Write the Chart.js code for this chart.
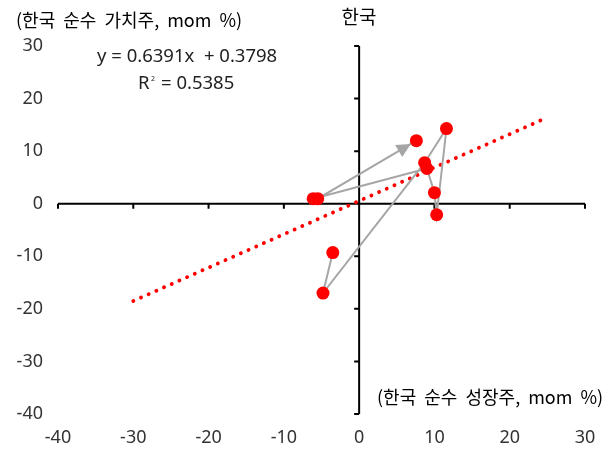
<!DOCTYPE html>
<html>
<head>
<meta charset="utf-8">
<script src="https://cdn.jsdelivr.net/npm/chart.js@4"></script>
<style>
  html, body { margin: 0; padding: 0; background: #fff; }
  #wrap { width: 615px; height: 454px; }
</style>
</head>
<body>
<div id="wrap"><canvas id="chartKorea"></canvas></div>
<script>
// 한국 순수 성장주(x) vs 순수 가치주(y), mom % - 시간 순서대로
const growthX = [-3.5, -4.8, 8.7, 11.6, 10.3, 10.0, 9.0, -6.1, -5.5, 7.6];
const valueY = [-9.3, -17.0, 7.8, 14.3, -2.1, 2.1, 6.7, 0.95, 0.95, 12.0];

// 추세선 양 끝점 (y = 0.6391x + 0.3798)
const trendX = [-30, 24.2];
const trendY = [-18.5, 15.9];

const axisTicks = [-40, -30, -20, -10, 0, 10, 20, 30];

const chartTitle = '한국';
const yTitle = '(한국  순수  가치주,  mom  %)';
const xTitle = '(한국  순수  성장주,  mom  %)';
const eqText = 'y = 0.6391x  + 0.3798';
const r2Text = '0.5385';

const krFont = '"Noto Sans CJK KR", "Noto Sans", sans-serif';
const numFont = '"Noto Sans", "DejaVu Sans", sans-serif';
const markerR = 6.5;

const pts = growthX.map((x, i) => ({ x: x, y: valueY[i] }));
const trendPts = trendX.map((x, i) => ({ x: x, y: trendY[i] }));

// 가운데 교차하는 축 + 눈금, 제목/수식 텍스트
const crossAxes = {
    id: 'crossAxes',
    beforeDatasetsDraw(chart) {
        const { ctx, scales: { x, y } } = chart;
        const x0 = x.getPixelForValue(0);
        const y0 = y.getPixelForValue(0);
        ctx.save();
        ctx.strokeStyle = '#000';
        ctx.lineWidth = 2;
        ctx.beginPath();
        ctx.moveTo(x.left, y0);
        ctx.lineTo(x.right, y0);
        ctx.moveTo(x0, y.top);
        ctx.lineTo(x0, y.bottom);
        axisTicks.forEach(v => {
            const px = x.getPixelForValue(v);
            ctx.moveTo(px, y0);
            ctx.lineTo(px, y0 + 5);
            const py = y.getPixelForValue(v);
            ctx.moveTo(x0, py);
            ctx.lineTo(x0 - 5, py);
        });
        ctx.stroke();
        ctx.restore();
    },
    afterDatasetsDraw(chart) {
        const { ctx, scales: { x, y } } = chart;
        // 마지막 구간 화살촉
        const n = growthX.length;
        const ax = x.getPixelForValue(growthX[n - 2]), ay = y.getPixelForValue(valueY[n - 2]);
        const bx = x.getPixelForValue(growthX[n - 1]), by = y.getPixelForValue(valueY[n - 1]);
        const ang = Math.atan2(by - ay, bx - ax);
        const tx = bx - Math.cos(ang) * markerR, ty = by - Math.sin(ang) * markerR;
        const len = 14, half = 7;
        ctx.save();
        ctx.fillStyle = '#A6A6A6';
        ctx.beginPath();
        ctx.moveTo(tx, ty);
        ctx.lineTo(tx - Math.cos(ang) * len - Math.sin(ang) * half, ty - Math.sin(ang) * len + Math.cos(ang) * half);
        ctx.lineTo(tx - Math.cos(ang) * len + Math.sin(ang) * half, ty - Math.sin(ang) * len - Math.cos(ang) * half);
        ctx.closePath();
        ctx.fill();

        // 텍스트
        ctx.fillStyle = '#000';
        ctx.textBaseline = 'middle';
        ctx.textAlign = 'center';
        ctx.font = '19px ' + krFont;
        ctx.fillText(chartTitle, 359, 17);
        ctx.textAlign = 'left';
        ctx.font = '18px ' + krFont;
        ctx.fillText(yTitle, 16, 20);
        ctx.fillText(xTitle, 377, 397);
        ctx.fillStyle = '#222';
        ctx.font = '18.5px ' + numFont;
        ctx.fillText(eqText, 97, 57);
        ctx.fillText('R', 138, 84);
        ctx.font = '7px ' + numFont;
        ctx.fillText('2', 151, 79);
        ctx.font = '18.5px ' + numFont;
        ctx.fillText('= ' + r2Text, 161, 84);
        ctx.restore();
    }
};

new Chart(document.getElementById('chartKorea'), {
    type: 'scatter',
    data: {
        datasets: [
            {
                label: '한국',
                data: pts,
                backgroundColor: '#FF0000',
                borderWidth: 0,
                pointRadius: markerR,
                pointHoverRadius: markerR
            },
            {
                label: 'path',
                data: pts,
                showLine: true,
                borderColor: '#A6A6A6',
                borderWidth: 2,
                pointRadius: 0,
                pointHoverRadius: 0
            },
            {
                label: 'trend',
                data: trendPts,
                showLine: true,
                borderColor: '#FF0000',
                borderWidth: 3.8,
                borderDash: [0.1, 8.3],
                borderCapStyle: 'round',
                pointRadius: 0,
                pointHoverRadius: 0
            }
        ]
    },
    options: {
        responsive: true,
        maintainAspectRatio: false,
        animation: false,
        layout: { padding: { top: 46, right: 30, left: 0, bottom: 0 } },
        plugins: {
            legend: { display: false },
            tooltip: { enabled: false }
        },
        scales: {
            x: {
                type: 'linear',
                position: 'bottom',
                min: -40,
                max: 30,
                afterFit: s => { s.height = 40; },
                grid: { display: false, drawTicks: false },
                border: { display: false },
                ticks: {
                    stepSize: 10,
                    padding: 13,
                    color: '#333',
                    font: { family: numFont, size: 18 }
                }
            },
            y: {
                type: 'linear',
                position: 'left',
                min: -40,
                max: 30,
                afterFit: s => { s.width = 58; },
                grid: { display: false, drawTicks: false },
                border: { display: false },
                ticks: {
                    stepSize: 10,
                    padding: 15,
                    color: '#333',
                    font: { family: numFont, size: 18 }
                }
            }
        }
    },
    plugins: [crossAxes]
});
</script>
</body>
</html>
